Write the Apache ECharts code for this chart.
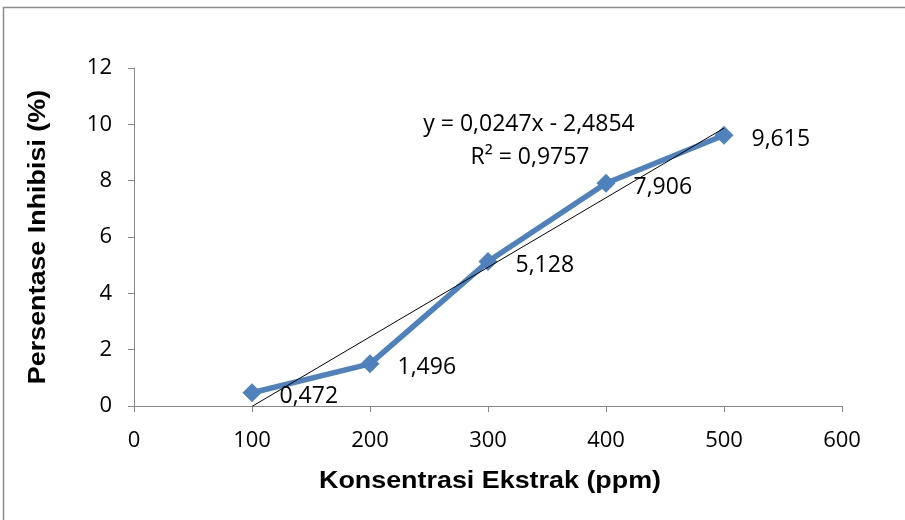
<!DOCTYPE html>
<html>
<head>
<meta charset="utf-8">
<script src="https://cdn.jsdelivr.net/npm/echarts@6/dist/echarts.min.js"></script>
<style>
  html, body { margin: 0; padding: 0; background: #fff; }
  #chart { width: 905px; height: 520px; }
</style>
</head>
<body>
<div id="chart"></div>
<script>
// Extract concentration (ppm) and measured inhibition (%)
const concentrations = [100, 200, 300, 400, 500];
const inhibition = [0.472, 1.496, 5.128, 7.906, 9.615];
const valueLabels = ['0,472', '1,496', '5,128', '7,906', '9,615'];

// Linear trendline y = a·x + b
const slope = 0.0247;
const intercept = -2.4854;
const trendX = [100, 500];
const equationText = 'y = 0,0247x - 2,4854';
const r2Text = 'R² = 0,9757';

const xTitle = 'Konsentrasi Ekstrak (ppm)';
const yTitle = 'Persentase Inhibisi (%)';

const axisColor = '#868686';
const bodyFont = 'Open Sans';
const titleStyle = { fontFamily: 'Liberation Sans', fontWeight: 'bold', fontSize: 24, fill: '#000',
                     align: 'center', verticalAlign: 'middle' };

const chart = echarts.init(document.getElementById('chart'));

chart.setOption({
  animation: false,
  backgroundColor: '#fff',
  grid: { left: 134, right: 63, top: 68, bottom: 114 },
  xAxis: {
    type: 'value', min: 0, max: 600, interval: 100,
    axisLine: { show: true, lineStyle: { color: axisColor, width: 1 } },
    axisTick: { show: true, inside: false, length: 6, lineStyle: { color: axisColor } },
    axisLabel: { fontFamily: bodyFont, fontSize: 22, color: '#000', margin: 24 },
    splitLine: { show: false }
  },
  yAxis: {
    type: 'value', min: 0, max: 12, interval: 2,
    axisLine: { show: true, lineStyle: { color: axisColor, width: 1 } },
    axisTick: { show: true, inside: false, length: 6, lineStyle: { color: axisColor } },
    axisLabel: { fontFamily: bodyFont, fontSize: 22, color: '#000', margin: 22 },
    splitLine: { show: false }
  },
  series: [
    {
      type: 'line',
      name: 'trend',
      data: trendX.map(x => [x, slope * x + intercept]),
      showSymbol: false,
      symbol: 'none',
      lineStyle: { color: '#000', width: 1 },
      clip: true,
      z: 3
    },
    {
      type: 'line',
      name: 'inhibisi',
      data: concentrations.map((x, i) => [x, inhibition[i]]),
      symbol: 'diamond',
      symbolSize: 19,
      lineStyle: { color: '#4F81BD', width: 5.5 },
      itemStyle: { color: '#4F81BD' },
      label: {
        show: true,
        position: 'right',
        distance: 18,
        offset: [0, 4],
        fontFamily: bodyFont,
        fontSize: 23,
        color: '#000',
        formatter: p => valueLabels[p.dataIndex]
      },
      z: 2
    }
  ],
  graphic: [
    {
      type: 'rect',
      shape: { x: 3.5, y: 7.5, width: 1000, height: 1000 },
      style: { fill: 'none', stroke: '#8c8c8c', lineWidth: 1.5 },
      silent: true, z: -1
    },
    {
      type: 'text', x: 490, y: 481, scaleX: 1.12,
      style: Object.assign({ text: xTitle }, titleStyle)
    },
    {
      type: 'text', x: 38, y: 237, rotation: Math.PI / 2, scaleX: 1.12,
      style: Object.assign({ text: yTitle }, titleStyle)
    },
    {
      type: 'text', x: 529, y: 124,
      style: { text: equationText, fontFamily: bodyFont, fontSize: 23, fill: '#000', align: 'center', verticalAlign: 'middle' }
    },
    {
      type: 'text', x: 530, y: 157,
      style: { text: r2Text, fontFamily: bodyFont, fontSize: 23, fill: '#000', align: 'center', verticalAlign: 'middle' }
    }
  ]
});
</script>
</body>
</html>
